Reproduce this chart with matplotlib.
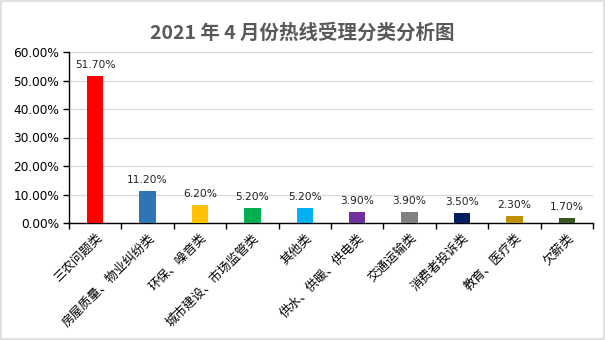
import matplotlib
matplotlib.use("Agg")
import matplotlib.pyplot as plt
from matplotlib.ticker import PercentFormatter

plt.rcParams['font.family'] = ['Noto Sans CJK SC', 'DejaVu Sans']

categories = ['三农问题类', '房屋质量、物业纠纷类', '环保、噪音类', '城市建设、市场监管类',
              '其他类', '供水、供暖、供电类', '交通运输类', '消费者投诉类', '教育、医疗类', '欠薪类']
shares = [51.7, 11.2, 6.2, 5.2, 5.2, 3.9, 3.9, 3.5, 2.3, 1.7]
colors = ['#FF0000', '#2E75B6', '#FFC000', '#00B050', '#00B0F0',
          '#7030A0', '#808080', '#002060', '#BF9000', '#375623']

fig = plt.figure(figsize=(6.05, 3.4), dpi=100)
ax = fig.add_axes([69 / 605, 1 - 223 / 340, 524 / 605, 171 / 340])

x = range(len(categories))
ax.bar(x, shares, width=0.31, color=colors, zorder=3)
for i, v in enumerate(shares):
    ax.text(i, v + 3.9, f'{v:.2f}%', ha='center', va='center', fontsize=7.7,
            family=['DejaVu Sans'], color='#222222')

ax.set_xlim(-0.5, len(categories) - 0.5)
ax.set_ylim(0, 60)
ax.set_yticks(range(0, 61, 10))
ax.yaxis.set_major_formatter(PercentFormatter(decimals=2))
ax.grid(axis='y', color='#D9D9D9', linewidth=0.9, zorder=0)

# category boundaries get the tick marks, names sit on the minor ticks
ax.set_xticks([i - 0.5 for i in range(len(categories) + 1)])
ax.set_xticklabels([])
ax.set_xticks(list(x), minor=True)
ax.set_xticklabels(categories, minor=True, rotation=45, ha='right',
                   rotation_mode='anchor', fontsize=9)
ax.tick_params(axis='x', which='minor', length=0, pad=6)
ax.tick_params(axis='x', which='major', length=4, width=1)
ax.tick_params(axis='y', length=4, width=1, labelsize=8.7, pad=3)
for lbl in ax.get_yticklabels():
    lbl.set_family(['DejaVu Sans'])

for s in ['top', 'right']:
    ax.spines[s].set_visible(False)
ax.spines['left'].set_linewidth(1)
ax.spines['bottom'].set_linewidth(1)

fig.text(0.5, 1 - 33 / 340, '2021 年 4 月份热线受理分类分析图', ha='center', va='center',
         fontsize=14, fontweight='bold', color='#595959')

border = plt.Rectangle((0.002, 0.003), 0.996, 0.994, transform=fig.transFigure,
                       fill=False, edgecolor='#D9D9D9', linewidth=1.2)
fig.patches.append(border)

fig.savefig('out.png', dpi=100)
